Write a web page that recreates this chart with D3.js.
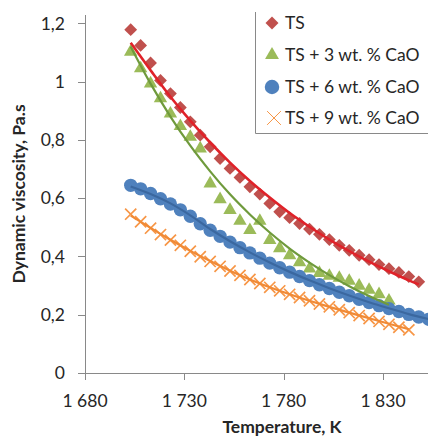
<!DOCTYPE html>
<html>
<head>
<meta charset="utf-8">
<script src="https://cdn.jsdelivr.net/npm/d3@7"></script>
<style>
  html, body { margin: 0; padding: 0; background: #fff; overflow: hidden; }
  svg { display: block; font-family: Lato, "Open Sans", sans-serif; }
</style>
</head>
<body>
<svg id="chart" width="428" height="437"></svg>
<script>
// Series labels
const seriesNames = ["TS", "TS + 3 wt. % CaO", "TS + 6 wt. % CaO", "TS + 9 wt. % CaO"];

// Measured viscosity (Pa.s) against temperature (K)
const tempTS = [1703,1708,1713,1718,1723,1728,1733,1738,1743,1748,1753,1758,1763,1768,1773,1778,1783,1788,1793,1798,1803,1808,1813,1818,1823,1828,1833,1838,1843,1848];
const viscTS = [1.178,1.124,1.064,1.004,0.959,0.911,0.862,0.816,0.776,0.736,0.702,0.671,0.639,0.614,0.582,0.553,0.533,0.513,0.494,0.476,0.458,0.438,0.421,0.404,0.389,0.372,0.358,0.345,0.331,0.313];

const tempCaO3 = [1703,1708,1713,1718,1723,1728,1733,1738,1743,1748,1753,1758,1763,1768,1773,1778,1783,1788,1793,1798,1803,1808,1813,1818,1823,1828,1833];
const viscCaO3 = [1.102,1.045,0.993,0.942,0.890,0.847,0.810,0.770,0.650,0.596,0.559,0.522,0.490,0.522,0.456,0.428,0.404,0.380,0.358,0.343,0.333,0.326,0.316,0.299,0.285,0.270,0.248];

const tempCaO6 = [1703,1708,1713,1718,1723,1728,1733,1738,1743,1748,1753,1758,1763,1768,1773,1778,1783,1788,1793,1798,1803,1808,1813,1818,1823,1828,1833,1838,1843,1848,1853,1858];
const viscCaO6 = [0.644,0.632,0.616,0.598,0.580,0.560,0.538,0.512,0.490,0.469,0.449,0.430,0.412,0.394,0.377,0.361,0.346,0.331,0.317,0.303,0.290,0.277,0.265,0.253,0.242,0.231,0.221,0.211,0.201,0.192,0.184,0.176];

const tempCaO9 = [1703,1708,1713,1718,1723,1728,1733,1738,1743,1748,1753,1758,1763,1768,1773,1778,1783,1788,1793,1798,1803,1808,1813,1818,1823,1828,1833,1838,1843];
const viscCaO9 = [0.545,0.519,0.497,0.475,0.456,0.438,0.418,0.399,0.383,0.366,0.350,0.335,0.321,0.307,0.294,0.282,0.270,0.259,0.248,0.237,0.227,0.217,0.207,0.197,0.187,0.177,0.167,0.157,0.148];

// Trend lines through each series
const trendTempTS = [1703,1713,1723,1733,1743,1753,1763,1773,1783,1793,1803,1813,1823,1833,1843,1848];
const trendTS = [1.133,1.039,0.948,0.866,0.791,0.722,0.659,0.602,0.549,0.502,0.458,0.418,0.382,0.349,0.318,0.304];

const trendTempCaO3 = [1703,1713,1723,1733,1743,1753,1763,1773,1783,1793,1803,1813,1823,1833];
const trendCaO3 = [1.120,0.993,0.880,0.780,0.692,0.613,0.544,0.482,0.427,0.379,0.336,0.298,0.264,0.234];

const trendTempCaO6 = [1703,1713,1723,1733,1743,1753,1763,1773,1783,1793,1803,1813,1823,1833,1843,1853,1858];
const trendCaO6 = [0.640,0.614,0.582,0.541,0.494,0.452,0.414,0.379,0.347,0.318,0.291,0.266,0.243,0.222,0.202,0.185,0.177];

const trendTempCaO9 = [1703,1713,1723,1733,1743,1753,1763,1773,1783,1793,1803,1813,1823,1833,1843];
const trendCaO9 = [0.540,0.498,0.457,0.419,0.384,0.351,0.321,0.294,0.270,0.248,0.227,0.207,0.188,0.169,0.150];

// Axis ticks
const xTicks = [1680, 1730, 1780, 1830];
const yTicks = [0, 0.2, 0.4, 0.6, 0.8, 1, 1.2];

const svg = d3.select("#chart");

const x = d3.scaleLinear().domain([1680, 1860]).range([85, 85 + 180 * 298 / 150]);
const y = d3.scaleLinear().domain([0, 1.2]).range([373, 23.3]);

const locale = d3.formatLocale({ decimal: ",", thousands: " ", grouping: [3], currency: ["", ""] });
const fmtX = locale.format(",");
const fmtY = locale.format(".1~f");

const axisColor = "#898989";
const textColor = "#262626";

// Custom "x" marker for the 9 % series
const symbolCross = {
  draw(ctx, size) {
    const r = Math.sqrt(size) / 2;
    ctx.moveTo(-r, -r); ctx.lineTo(r, r);
    ctx.moveTo(r, -r); ctx.lineTo(-r, r);
  }
};

const series = [
  { name: seriesNames[0], t: tempTS, v: viscTS, tt: trendTempTS, tv: trendTS,
    type: d3.symbolSquare, size: 82, rotate: 45, fill: "#c0504d", stroke: "none", sw: 0,
    line: "#e02229", lw: 2.6,
    leg: { size: 84 } },
  { name: seriesNames[1], t: tempCaO3, v: viscCaO3, tt: trendTempCaO3, tv: trendCaO3,
    type: d3.symbolTriangle, size: 78, rotate: 0, fill: "#9bbb59", stroke: "none", sw: 0,
    line: "#6f9a3c", lw: 2.2,
    leg: { size: 84 } },
  { name: seriesNames[2], t: tempCaO6, v: viscCaO6, tt: trendTempCaO6, tv: trendCaO6,
    type: d3.symbolCircle, size: 140, rotate: 0, fill: "#4f81bd", stroke: "none", sw: 0,
    line: "#3b68a0", lw: 2.2,
    leg: { size: 165 } },
  { name: seriesNames[3], t: tempCaO9, v: viscCaO9, tt: trendTempCaO9, tv: trendCaO9,
    type: symbolCross, size: 125, rotate: 0, fill: "none", stroke: "#f79646", sw: 1.7,
    line: "#f08a36", lw: 2.2,
    leg: { size: 190, sw: 1 } }
];

// Axes
const yAxisG = svg.append("g");
yAxisG.append("line")
  .attr("x1", 85.5).attr("x2", 85.5).attr("y1", 15).attr("y2", 373.5)
  .attr("stroke", axisColor);
yAxisG.selectAll("line.tick").data(yTicks).join("line")
  .attr("class", "tick")
  .attr("x1", 78).attr("x2", 85.5)
  .attr("y1", d => Math.round(y(d)) + 0.5).attr("y2", d => Math.round(y(d)) + 0.5)
  .attr("stroke", axisColor);
yAxisG.selectAll("text").data(yTicks).join("text")
  .attr("x", 65).attr("y", d => y(d)).attr("dy", "0.36em")
  .attr("text-anchor", "end")
  .attr("font-size", 17.5).attr("fill", textColor)
  .text(d => fmtY(d));

const xAxisG = svg.append("g");
xAxisG.append("line")
  .attr("x1", 85).attr("x2", 440).attr("y1", 373.5).attr("y2", 373.5)
  .attr("stroke", axisColor);
xAxisG.selectAll("line.tick").data(xTicks).join("line")
  .attr("class", "tick")
  .attr("x1", d => Math.round(x(d)) + 0.5).attr("x2", d => Math.round(x(d)) + 0.5)
  .attr("y1", 373.5).attr("y2", 380)
  .attr("stroke", axisColor);
xAxisG.selectAll("text").data(xTicks).join("text")
  .attr("x", d => x(d)).attr("y", 407)
  .attr("text-anchor", "middle")
  .attr("font-size", 17.5).attr("fill", textColor)
  .text(d => fmtX(d));

// Axis titles
svg.append("text")
  .attr("x", 282).attr("y", 433)
  .attr("text-anchor", "middle")
  .attr("font-size", 17.5).attr("font-weight", "bold").attr("fill", textColor)
  .text("Temperature, K");

svg.append("text")
  .attr("transform", "translate(25,194) rotate(-90)")
  .attr("text-anchor", "middle")
  .attr("font-size", 17.5).attr("font-weight", "bold").attr("fill", textColor)
  .text("Dynamic viscosity, Pa.s");

// Data markers
const plot = svg.append("g");
series.forEach(s => {
  const sym = d3.symbol().type(s.type).size(s.size);
  plot.append("g").selectAll("path")
    .data(s.t.map((t, i) => ({ t, v: s.v[i] })))
    .join("path")
    .attr("transform", d => `translate(${x(d.t)},${y(d.v)}) rotate(${s.rotate})`)
    .attr("d", sym())
    .attr("fill", s.fill)
    .attr("stroke", s.stroke)
    .attr("stroke-width", s.sw);
});

// Trend lines on top of the markers
series.forEach(s => {
  const line = d3.line().x(d => x(d[0])).y(d => y(d[1])).curve(d3.curveMonotoneX);
  plot.append("path")
    .datum(s.tt.map((t, i) => [t, s.tv[i]]))
    .attr("d", line)
    .attr("fill", "none")
    .attr("stroke", s.line)
    .attr("stroke-width", s.lw);
});

// Legend
const legend = svg.append("g");
legend.append("rect")
  .attr("x", 255.5).attr("y", 12).attr("width", 200).attr("height", 121.5)
  .attr("fill", "#fff").attr("stroke", "none");
legend.append("path")
  .attr("d", "M255.5,12 V133.5 H440")
  .attr("fill", "none").attr("stroke", axisColor);

const legY = [23, 55, 87, 118];
series.forEach((s, i) => {
  const sym = d3.symbol().type(s.type).size(s.leg.size);
  legend.append("path")
    .attr("transform", `translate(${s.type === symbolCross ? 274 : 272},${legY[i]}) rotate(${s.rotate})`)
    .attr("d", sym())
    .attr("fill", s.fill)
    .attr("stroke", s.stroke)
    .attr("stroke-width", s.leg.sw || s.sw);
  legend.append("text")
    .attr("x", 285).attr("y", legY[i]).attr("dy", "0.36em")
    .attr("font-size", 17.5).attr("fill", textColor)
    .text(s.name);
});
</script>
</body>
</html>
